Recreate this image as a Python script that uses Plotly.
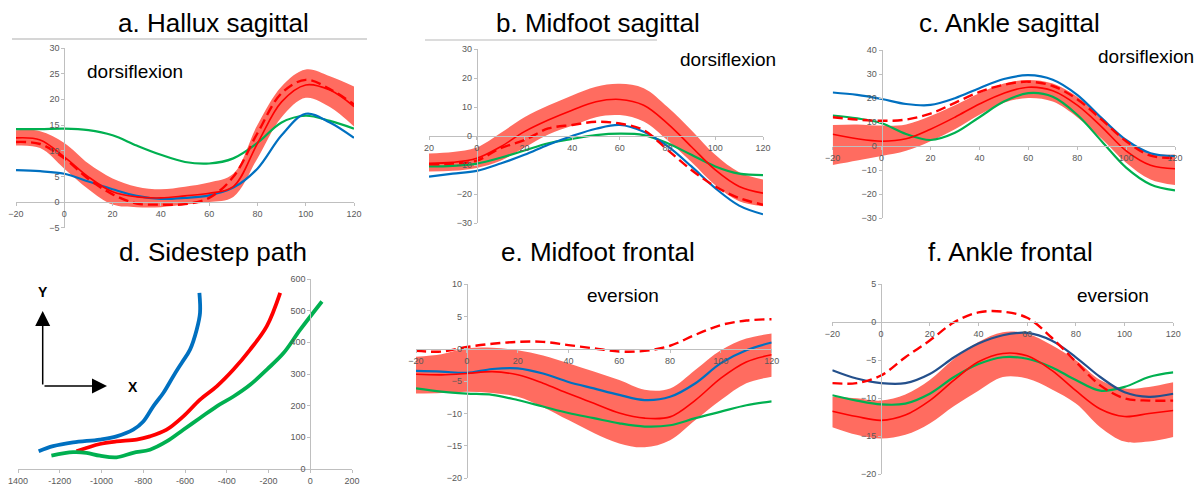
import plotly.graph_objects as go

W, H = 1204, 485

# ---------------- data ----------------
X = [-20, -10, 0, 10, 20, 30, 40, 50, 60, 70, 80, 90, 100, 110, 120]

# a. Hallux sagittal
a_mean = [12.5, 12.1, 8.8, 4.9, 2.0, 1.0, 0.8, 1.2, 1.7, 3.0, 11.4, 19.5, 22.8, 21.8, 18.6]
a_upper = [14.0, 13.8, 11.5, 7.5, 4.6, 3.0, 2.5, 3.0, 3.8, 5.5, 15.0, 22.5, 25.8, 24.5, 22.5]
a_lower = [11.0, 10.5, 6.5, 2.5, -0.5, -1.0, -1.0, -0.5, 0.0, 1.0, 8.5, 16.5, 20.3, 18.5, 14.7]
a_dashed = [11.7, 11.3, 8.5, 4.5, 1.5, -0.3, -0.5, -0.4, 0.8, 4.9, 13.4, 21.2, 23.8, 22.0, 19.0]
a_green = [14.2, 14.2, 14.3, 14.0, 13.0, 11.0, 9.2, 7.8, 7.5, 8.5, 11.5, 15.5, 16.8, 15.8, 14.3]
a_blue = [6.2, 6.0, 5.5, 4.0, 2.5, 1.2, 0.6, 0.8, 1.3, 2.8, 6.5, 13.0, 17.2, 15.5, 12.5]

# b. Midfoot sagittal
b_mean = [-9.4, -9.1, -7.7, -3.7, 1.5, 5.5, 8.9, 11.8, 12.6, 10.6, 4.3, -3.7, -11.7, -17.4, -19.7]
b_upper = [-6.0, -5.5, -4.0, 1.0, 6.5, 10.5, 14.0, 17.0, 18.0, 16.5, 10.0, 2.0, -6.5, -12.5, -15.0]
b_lower = [-12.2, -12.0, -11.0, -8.5, -4.0, 0.5, 3.5, 6.5, 7.2, 5.0, -1.5, -9.0, -17.0, -22.5, -24.2]
b_dashed = [-9.8, -9.5, -8.5, -4.2, -1.4, 2.6, 3.8, 4.9, 4.3, 2.0, -4.8, -11.7, -17.4, -21.4, -23.7]
b_green = [-10.5, -10.3, -9.5, -7.5, -5.0, -2.5, -1.0, 0.3, 0.8, 0.3, -2.5, -6.5, -10.5, -13.0, -13.5]
b_blue = [-14.0, -13.0, -12.0, -9.5, -6.5, -3.0, 0.0, 2.5, 3.8, 1.5, -3.5, -10.5, -18.0, -24.0, -27.0]

# c. Ankle sagittal
c_mean = [4.9, 3.0, 2.0, 3.0, 7.0, 12.0, 17.5, 22.0, 24.5, 23.0, 17.0, 8.0, -2.0, -8.0, -9.5]
c_upper = [8.8, 9.0, 8.5, 9.0, 12.5, 17.0, 22.0, 26.0, 27.5, 26.0, 20.5, 12.0, 2.0, -3.0, -3.5]
c_lower = [-7.9, -6.0, -4.2, -2.0, 2.0, 7.0, 13.0, 18.0, 20.0, 18.5, 12.0, 3.0, -7.0, -14.0, -16.3]
c_dashed = [12.0, 11.0, 10.5, 11.0, 13.5, 18.0, 22.5, 25.5, 26.8, 25.0, 19.5, 11.0, 2.0, -4.0, -5.0]
c_green = [12.7, 11.5, 9.5, 5.0, 2.5, 5.5, 12.0, 18.5, 22.0, 20.5, 13.0, 2.0, -9.0, -16.0, -18.5]
c_blue = [22.3, 21.3, 19.6, 17.5, 17.1, 19.9, 24.1, 27.9, 29.5, 27.6, 21.3, 11.6, 2.5, -3.0, -4.2]

# d. Sidestep path
d_blue_x = [-1301, -1232, -1136, -1008, -928, -848, -800, -752, -704, -656, -616, -576, -544, -528, -531]
d_blue_y = [56, 72, 84, 93, 103, 124, 150, 198, 240, 293, 335, 377, 440, 493, 556]
d_red_x = [-1120, -1008, -928, -832, -768, -688, -608, -528, -448, -368, -288, -208, -144]
d_red_y = [56, 79, 87, 93, 103, 124, 166, 219, 261, 314, 377, 451, 556]
d_green_x = [-1240, -1136, -1072, -1008, -928, -848, -768, -688, -608, -528, -448, -368, -288, -208, -128, -48, 56]
d_green_y = [42, 53, 51, 42, 37, 51, 61, 87, 124, 161, 198, 229, 266, 314, 366, 440, 529]

# e. Midfoot frontal
e_mean = [-3.9, -4.0, -3.8, -3.5, -4.0, -5.3, -6.9, -8.4, -9.9, -10.7, -10.5, -7.9, -4.5, -2.0, -0.9]
e_upper = [-1.2, -0.8, 0.1, 0.2, -0.2, -1.0, -2.2, -3.5, -4.8, -6.3, -6.1, -3.2, -0.2, 1.6, 2.4]
e_lower = [-6.9, -6.8, -6.6, -6.8, -7.4, -9.0, -11.0, -13.0, -14.6, -15.2, -14.1, -11.0, -7.9, -5.3, -4.3]
e_dashed = [-0.3, -0.4, 0.3, 0.8, 1.1, 1.1, 0.6, 0.1, -0.4, -0.3, 0.5, 2.2, 3.7, 4.4, 4.6]
e_green = [-6.1, -6.6, -6.9, -7.1, -7.9, -8.9, -9.9, -10.7, -11.5, -12.0, -11.8, -10.7, -9.7, -8.7, -8.1]
e_blue = [-3.4, -3.5, -3.7, -3.1, -3.0, -3.8, -5.1, -6.1, -7.1, -7.9, -7.4, -5.3, -2.2, -0.2, 1.0]

# f. Ankle frontal
f_mean = [-11.7, -12.4, -12.9, -12.2, -10.3, -7.6, -5.2, -4.1, -4.4, -6.3, -9.0, -11.4, -12.4, -12.0, -11.6]
f_upper = [-9.8, -10.0, -10.3, -9.5, -7.6, -4.8, -2.6, -1.3, -1.5, -3.0, -5.0, -7.6, -8.7, -8.5, -7.9]
f_lower = [-13.8, -14.8, -15.3, -14.8, -13.3, -11.0, -9.0, -7.2, -7.4, -8.8, -10.7, -13.8, -15.7, -15.7, -15.1]
f_dashed = [-8.0, -8.0, -7.0, -4.6, -2.4, 0.0, 1.3, 1.4, 0.6, -2.0, -5.2, -8.3, -10.0, -10.3, -10.3]
f_green = [-9.6, -10.3, -10.8, -10.7, -9.4, -7.2, -5.5, -4.6, -4.8, -5.9, -7.6, -9.0, -8.5, -7.2, -6.6]
f_blue = [-6.3, -7.4, -8.0, -8.0, -6.8, -4.6, -2.8, -1.7, -1.4, -2.4, -4.6, -7.2, -9.2, -9.8, -9.4]

titles = ["a. Hallux sagittal", "b. Midfoot sagittal", "c. Ankle sagittal",
          "d. Sidestep path", "e. Midfoot frontal", "f. Ankle frontal"]

# ---------------- styles ----------------
RED = "#FF0000"
GREEN = "#00B050"
BLUE = "#0070C0"
NAVY = "#24508C"
BAND = "rgb(255,108,96)"
AXC = "#BFBFBF"
FONT = "Liberation Sans, Arial, sans-serif"
TICKF = dict(family=FONT, size=9, color="#595959")


def pxx(p):
    return p / W


def pyy(p):
    return 1 - p / H


fig = go.Figure()

# panel geometry in pixels: x-range pixels and y-range pixels
panels = [
    dict(xr=[-20, 120], xp=[16, 354], yr=[-5, 30], yp=[227.7, 48], xd=20, yd=5),
    dict(xr=[-20, 120], xp=[429, 763], yr=[-30, 30], yp=[223, 49], xd=20, yd=10),
    dict(xr=[-20, 120], xp=[832.7, 1175], yr=[-30, 40], yp=[218, 50], xd=20, yd=10),
    dict(xr=[-1400, 200], xp=[18, 352], yr=[0, 600], yp=[469, 279], xd=200, yd=100),
    dict(xr=[-20, 120], xp=[416, 771.7], yr=[-20, 10], yp=[478.3, 284.3], xd=20, yd=5),
    dict(xr=[-20, 120], xp=[832.3, 1173.3], yr=[-20, 5], yp=[474.3, 284.3], xd=20, yd=5),
]

for i, p in enumerate(panels):
    n = "" if i == 0 else str(i + 1)
    xdom = [pxx(p["xp"][0]), pxx(p["xp"][1])]
    ydom = [pyy(p["yp"][0]), pyy(p["yp"][1])]
    # position of the crossing axes at value 0 (via the axis scale)
    xpos = ydom[0] + (0 - p["yr"][0]) / (p["yr"][1] - p["yr"][0]) * (ydom[1] - ydom[0])
    ypos = xdom[0] + (0 - p["xr"][0]) / (p["xr"][1] - p["xr"][0]) * (xdom[1] - xdom[0])
    common = dict(showgrid=False, zeroline=False, showline=True, linecolor=AXC, linewidth=1,
                  ticks="outside", ticklen=3, tickcolor=AXC, tickfont=TICKF, fixedrange=True,
                  automargin=False)
    fig.layout["xaxis" + n] = dict(domain=xdom, range=p["xr"], anchor="free", position=xpos,
                                   tick0=0, dtick=p["xd"], side="bottom", **common)
    fig.layout["yaxis" + n] = dict(domain=ydom, range=p["yr"], anchor="free", position=ypos,
                                   tick0=0, dtick=p["yd"], side="left", **common)

# special tick text (as seen in the picture)
fig.layout.xaxis2.update(tickmode="array", tickvals=[-20, 0, 20, 40, 60, 80, 100, 120],
                         ticktext=["20", "0", "20", "40", "60", "80", "100", "120"])
fig.layout.xaxis4.update(tickmode="array", tickvals=[-1400, -1200, -1000, -800, -600, -400, -200, 0, 200],
                         ticktext=["1400", "-1200", "-1000", "-800", "-600", "-400", "-200", "0", "200"])


def add_band(ax, upper, lower):
    xa, ya = ("x", "y") if ax == 1 else ("x%d" % ax, "y%d" % ax)
    fig.add_trace(go.Scatter(x=X, y=upper, xaxis=xa, yaxis=ya, mode="lines",
                             line=dict(width=0, shape="spline", color=BAND), hoverinfo="skip"))
    fig.add_trace(go.Scatter(x=X, y=lower, xaxis=xa, yaxis=ya, mode="lines", fill="tonexty",
                             fillcolor=BAND, line=dict(width=0, shape="spline", color=BAND),
                             hoverinfo="skip"))


def add_line(ax, xs, ys, color, width=2.2, dash="solid"):
    xa, ya = ("x", "y") if ax == 1 else ("x%d" % ax, "y%d" % ax)
    fig.add_trace(go.Scatter(x=xs, y=ys, xaxis=xa, yaxis=ya, mode="lines",
                             line=dict(color=color, width=width, dash=dash, shape="spline")))


sets = [
    (1, a_upper, a_lower, a_green, a_blue, a_dashed, a_mean, BLUE),
    (2, b_upper, b_lower, b_green, b_blue, b_dashed, b_mean, BLUE),
    (3, c_upper, c_lower, c_green, c_blue, c_dashed, c_mean, BLUE),
    (5, e_upper, e_lower, e_green, e_blue, e_dashed, e_mean, BLUE),
    (6, f_upper, f_lower, f_green, f_blue, f_dashed, f_mean, NAVY),
]
for ax, up, lo, gr, bl, da, me, bcol in sets:
    add_band(ax, up, lo)
    add_line(ax, X, gr, GREEN, 2.2)
    add_line(ax, X, bl, bcol, 2.2)
    add_line(ax, X, da, RED, 2.4, "10px,5px")
    add_line(ax, X, me, RED, 1.6)

add_line(4, d_blue_x, d_blue_y, BLUE, 3.8)
add_line(4, d_red_x, d_red_y, RED, 3.8)
add_line(4, d_green_x, d_green_y, GREEN, 3.8)

# ---------------- annotations ----------------
ann = []
title_pos = [(213, 23), (598, 23), (1009, 23), (213, 252), (598, 252), (1010, 252)]
for t, (x, y) in zip(titles, title_pos):
    ann.append(dict(text=t, x=pxx(x), y=pyy(y), xref="paper", yref="paper", showarrow=False,
                    xanchor="center", yanchor="middle",
                    font=dict(family=FONT, size=26, color="black")))

lab_font = dict(family=FONT, size=19, color="black")
for t, (x, y) in [("dorsiflexion", (135, 71)), ("dorsiflexion", (728, 59)),
                  ("dorsiflexion", (1146, 56)), ("eversion", (623, 295)), ("eversion", (1113, 295))]:
    ann.append(dict(text=t, x=pxx(x), y=pyy(y), xref="paper", yref="paper", showarrow=False,
                    xanchor="center", yanchor="middle", font=lab_font))

# X / Y arrows in panel d
ann.append(dict(text="", x=pxx(42.7), y=pyy(311), xref="paper", yref="paper", showarrow=True,
                ax=0, ay=75, arrowhead=2, arrowsize=2, arrowwidth=1.5, arrowcolor="black"))
ann.append(dict(text="", x=pxx(107), y=pyy(386), xref="paper", yref="paper", showarrow=True,
                ax=-64, ay=0, arrowhead=2, arrowsize=2, arrowwidth=1.5, arrowcolor="black"))
xy_font = dict(family=FONT, size=14, color="black")
ann.append(dict(text="<b>Y</b>", x=pxx(43), y=pyy(292), xref="paper", yref="paper", showarrow=False,
                xanchor="center", yanchor="middle", font=xy_font))
ann.append(dict(text="<b>X</b>", x=pxx(133), y=pyy(387), xref="paper", yref="paper", showarrow=False,
                xanchor="center", yanchor="middle", font=xy_font))

shapes = [
    dict(type="line", xref="paper", yref="paper", x0=pxx(12), x1=pxx(367), y0=pyy(39), y1=pyy(39),
         line=dict(color="#C8C8C8", width=1.5)),
    dict(type="line", xref="paper", yref="paper", x0=pxx(425), x1=pxx(657), y0=pyy(40), y1=pyy(40),
         line=dict(color="#D0D0D0", width=1.5)),
]

fig.update_layout(width=W, height=H, autosize=False, margin=dict(l=0, r=0, t=0, b=0, pad=0),
                  paper_bgcolor="white", plot_bgcolor="rgba(0,0,0,0)", showlegend=False,
                  annotations=ann, shapes=shapes)

fig.write_html("out.html", config={"displayModeBar": False},
               post_script="document.body.style.margin='0';document.body.style.padding='0';"
                           "document.body.style.overflow='hidden';")
